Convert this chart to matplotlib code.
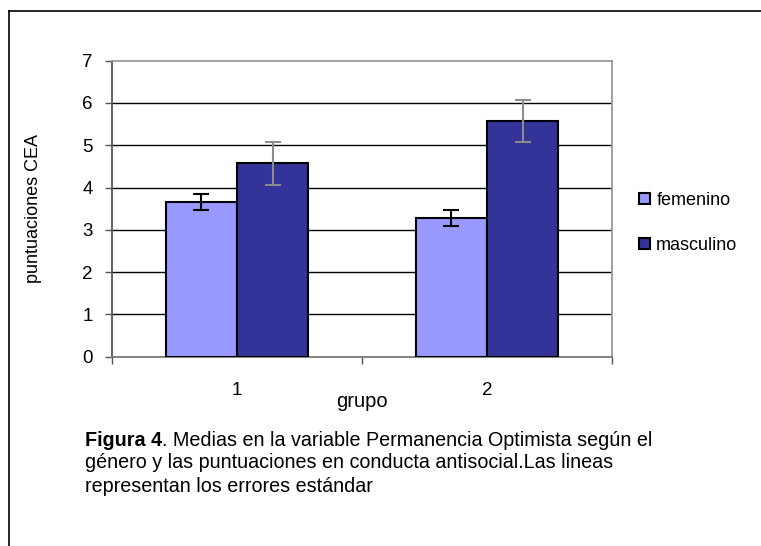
import matplotlib.pyplot as plt
import numpy as np
from matplotlib.lines import Line2D

plt.rcParams['font.family'] = ['Liberation Sans', 'DejaVu Sans']

# data
grupos = ['1', '2']
femenino = [3.66, 3.29]
femenino_err = [0.19, 0.19]
masculino = [4.57, 5.58]
masculino_err = [0.51, 0.50]

fig = plt.figure(figsize=(7.61, 5.46), dpi=100)
ax = fig.add_axes([0.1472, 0.3467, 0.657, 0.5422])

x = np.arange(len(grupos))
w = 1 / 3.5

ax.bar(x - w/2, femenino, w, color='#9999ff', edgecolor='black', linewidth=1.5,
       label='femenino', zorder=3)
ax.bar(x + w/2, masculino, w, color='#333399', edgecolor='black', linewidth=1.5,
       label='masculino', zorder=3)
ax.errorbar(x - w/2, femenino, yerr=femenino_err, fmt='none', ecolor='black',
            elinewidth=1.5, capsize=6, capthick=1.5, zorder=4)
ax.errorbar(x + w/2, masculino, yerr=masculino_err, fmt='none', ecolor='#8c8c8c',
            elinewidth=1.5, capsize=6, capthick=1.5, zorder=4)

ax.set_xlim(-0.5, 1.5)
ax.set_ylim(0, 7)
ax.set_yticks(range(8))
ax.set_xticks([-0.5, 0.5, 1.5])
ax.set_xticklabels([])
ax.tick_params(axis='y', labelsize=13.5, length=5, width=1, color='#555555', pad=9)
ax.tick_params(axis='x', length=5, width=1, color='#555555')
for i, g in enumerate(grupos):
    ax.text(i, -0.79, g, ha='center', va='center', fontsize=13.5)
ax.text(0.5, -1.07, 'grupo', ha='center', va='center', fontsize=14.5)
ax.set_ylabel('puntuaciones CEA', fontsize=13, labelpad=29)

for yv in range(1, 7):
    ax.axhline(yv, color='black', linewidth=1, zorder=1)
ax.spines['top'].set_color('#999999')
ax.spines['right'].set_color('#999999')
ax.spines['left'].set_color('#555555')
ax.spines['bottom'].set_color('#777777')
for s in ax.spines.values():
    s.set_linewidth(1.3)

fig.legend(loc='center left', bbox_to_anchor=(0.828, 0.592), frameon=False,
           fontsize=13, handlelength=0.6, handleheight=0.6, handletextpad=0.35,
           labelspacing=1.55, borderpad=0)

# outer frame
fig.add_artist(Line2D([9/761, 9/761], [0, 1 - 11/546], color='black', linewidth=1.2))
fig.add_artist(Line2D([9/761, 1], [1 - 11/546, 1 - 11/546], color='black', linewidth=1.2))

# caption
cap_size = 14.2
t = fig.text(85/761, 1 - 440/546, 'Figura 4', fontsize=cap_size, fontweight='bold', va='center')
bb = t.get_window_extent(renderer=fig.canvas.get_renderer())
fig.text(bb.x1 / fig.bbox.width, 1 - 440/546,
         '. Medias en la variable Permanencia Optimista según el',
         fontsize=cap_size, va='center')
fig.text(85/761, 1 - 463/546, 'género y las puntuaciones en conducta antisocial.Las lineas',
         fontsize=cap_size, va='center')
fig.text(85/761, 1 - 486/546, 'representan los errores estándar', fontsize=cap_size, va='center')

fig.savefig('out.png', dpi=100)
